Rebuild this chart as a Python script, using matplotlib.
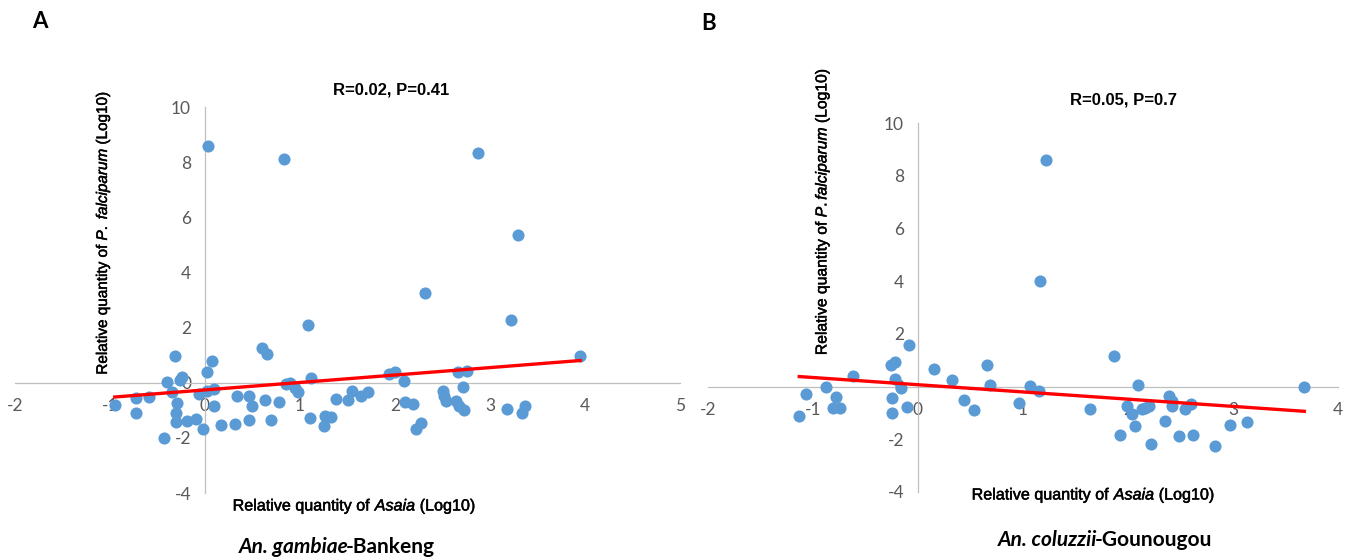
import numpy as np
import matplotlib
matplotlib.use('Agg')
import matplotlib.pyplot as plt
import matplotlib.patheffects as pe

plt.rcParams['axes.unicode_minus'] = False
plt.rcParams['mathtext.fontset'] = 'custom'
plt.rcParams['mathtext.rm'] = 'Liberation Sans'
plt.rcParams['mathtext.it'] = 'Liberation Sans:italic'

# panel A - An. gambiae, Bankeng
asaia_a = [0.03, 0.83, 2.87, 3.30, 2.32, 3.22, 1.08, 0.60, 0.65, 3.95,
           -0.32, 0.07, 0.02, -0.24, -0.40, 1.12, 0.90, 1.94, 2.00, 2.09,
           2.66, 2.76, 2.72, 0.95, 0.98, 0.09, 0.02, -0.06, -0.35, -0.29,
           -0.30, -0.31, -0.19, -0.09, -0.02, 0.09, -0.43, -0.95, -0.73, -0.73,
           -0.59, 0.17, 0.32, 0.34, 0.46, 0.49, 0.46, 0.63, 0.69, 0.78,
           1.11, 1.25, 1.26, 1.33, 1.38, 1.51, 1.55, 1.64, 1.72, 2.11,
           2.19, 2.22, 2.27, 2.51, 2.52, 2.54, 2.64, 2.67, 2.73, 3.18,
           3.34, 3.37, -0.26, 0.85]
pf_a = [8.60, 8.10, 8.34, 5.36, 3.24, 2.27, 2.10, 1.27, 1.05, 0.96,
        0.96, 0.80, 0.39, 0.21, 0.04, 0.16, 0.00, 0.32, 0.40, 0.06,
        0.39, 0.42, -0.16, -0.20, -0.32, -0.21, -0.30, -0.40, -0.32, -0.73,
        -1.09, -1.43, -1.40, -1.32, -1.66, -0.84, -2.01, -0.82, -0.54, -1.10,
        -0.51, -1.54, -1.48, -0.48, -0.48, -0.84, -1.36, -0.62, -1.35, -0.69,
        -1.27, -1.58, -1.19, -1.23, -0.58, -0.62, -0.30, -0.47, -0.34, -0.69,
        -0.78, -1.66, -1.45, -0.29, -0.48, -0.67, -0.67, -0.84, -1.00, -0.96,
        -1.09, -0.84, 0.10, -0.05]

# panel B - An. coluzzii, Gounougou
asaia_b = [1.22, 1.16, -0.09, 1.87, -0.22, -0.26, 0.15, 0.66, -0.62, -0.22,
           0.32, -0.16, 0.69, 1.07, 1.15, 2.10, 3.68, -0.88, -1.07, -0.78,
           -1.13, -0.81, -0.74, -0.25, -0.25, -0.10, 0.44, 0.53, 0.96, 1.64,
           1.99, 2.04, 1.92, 2.07, 2.13, 2.16, 2.20, 2.22, 2.35, 2.39,
           2.42, 2.42, 2.49, 2.54, 2.60, 2.62, 2.83, 2.97, 3.13]
pf_b = [8.58, 4.02, 1.57, 1.15, 0.94, 0.80, 0.67, 0.81, 0.40, 0.28,
        0.26, -0.07, 0.07, 0.01, -0.16, 0.05, -0.03, -0.01, -0.27, -0.40,
        -1.13, -0.80, -0.81, -0.43, -1.00, -0.78, -0.51, -0.89, -0.62, -0.85,
        -0.73, -1.04, -1.85, -1.51, -0.84, -0.81, -0.73, -2.17, -1.31, -0.34,
        -0.53, -0.72, -1.86, -0.85, -0.67, -1.82, -2.27, -1.44, -1.35]

# trendlines as drawn in the figure (slope, intercept)
trend_a = (0.27, -0.26)
trend_b = (-0.274, 0.07)

blue = '#5B9BD5'
grey_axis = '#BFBFBF'
grey_text = '#595959'

fig = plt.figure(figsize=(13.5, 5.59), dpi=100)
renderer = fig.canvas.get_renderer()

# slight stroke so the Arial-like labels look as heavy as in the original
heavy = [pe.withStroke(linewidth=0.35, foreground='black')]


def panel(rect, xs, ys, trend, xlim, xticks):
    ax = fig.add_axes(rect)
    ax.scatter(xs, ys, s=76, color=blue, zorder=3, linewidths=0)
    tx = np.array([min(xs), max(xs)])
    ax.plot(tx, trend[0] * tx + trend[1], color='#FF0000', lw=2.4, zorder=4)
    ax.set_xlim(*xlim)
    ax.set_ylim(-4, 10)
    ax.set_xticks(xticks)
    ax.set_yticks(range(-4, 11, 2))
    for side in ['top', 'right']:
        ax.spines[side].set_visible(False)
    for side in ['left', 'bottom']:
        ax.spines[side].set_position('zero')
        ax.spines[side].set_color(grey_axis)
        ax.spines[side].set_linewidth(0.9)
    ax.tick_params(length=0, labelsize=12.5, labelcolor=grey_text)
    ax.tick_params(axis='x', pad=11)
    ax.tick_params(axis='y', pad=10)
    for lab in ax.get_xticklabels() + ax.get_yticklabels():
        lab.set_family('Lato')
    ax.patch.set_visible(False)
    return ax


def mixed_text(xc, yc, parts, trim=0, **kw):
    # lay out (string, style, weight) pieces side by side, centred on xc
    texts = [fig.text(0, yc, s, fontstyle=st, fontweight=w, va='center', **kw)
             for s, st, w in parts]
    widths = []
    for t, (s, st, w) in zip(texts, parts):
        wd = t.get_window_extent(renderer).width
        if st == 'italic':
            wd -= trim
        widths.append(wd / fig.bbox.width)
    x = xc - sum(widths) / 2
    for t, w in zip(texts, widths):
        t.set_x(x)
        x += w


panel([0.0111, 0.118, 0.4926, 0.6905], asaia_a, pf_a, trend_a, (-2, 5), range(-2, 6))
panel([0.5244, 0.1199, 0.4667, 0.66], asaia_b, pf_b, trend_b, (-2, 4), range(-2, 5))

fig.text(103 / 1350, 1 - 233 / 559, r'Relative quantity of $\mathit{P.\ falciparum}$ (Log10)',
         rotation=90, ha='center', va='center', fontsize=11, family='Liberation Sans',
         path_effects=heavy)
fig.text(822 / 1350, 1 - 211 / 559, r'Relative quantity of $\mathit{P.falciparum}$ (Log10)',
         rotation=90, ha='center', va='center', fontsize=11.3, family='Liberation Sans',
         path_effects=heavy)

xlab = [('Relative quantity of ', 'normal', 'normal'), ('Asaia', 'italic', 'normal'),
        (' (Log10)', 'normal', 'normal')]
mixed_text(354 / 1350, 1 - 506 / 559, xlab, fontsize=11.6, family='Liberation Sans',
           path_effects=heavy)
mixed_text(1093 / 1350, 1 - 495 / 559, xlab, fontsize=11.6, family='Liberation Sans',
           path_effects=heavy)

fig.text(391 / 1350, 1 - 90 / 559, 'R=0.02, P=0.41', ha='center', va='center',
         fontsize=12, family='Liberation Sans', weight='bold')
fig.text(1124 / 1350, 1 - 100 / 559, 'R=0.05, P=0.7', ha='center', va='center',
         fontsize=12, family='Liberation Sans', weight='bold')

fig.text(40 / 1350, 1 - 21 / 559, 'A', ha='center', va='center',
         fontsize=16, family='Lato', weight='bold')
fig.text(709 / 1350, 1 - 24 / 559, 'B', ha='center', va='center',
         fontsize=16, family='Lato', weight='bold')

mixed_text(337 / 1350, 1 - 547 / 559,
           [('An. gambiae', 'italic', 'bold'), ('-Bankeng', 'normal', 'bold')],
           trim=2.5, fontsize=15, family='Lato')
mixed_text(1105 / 1350, 1 - 540 / 559,
           [('An. coluzzii', 'italic', 'bold'), ('-Gounougou', 'normal', 'bold')],
           trim=2.5, fontsize=15, family='Lato')

fig.savefig('out.png', dpi=100)
